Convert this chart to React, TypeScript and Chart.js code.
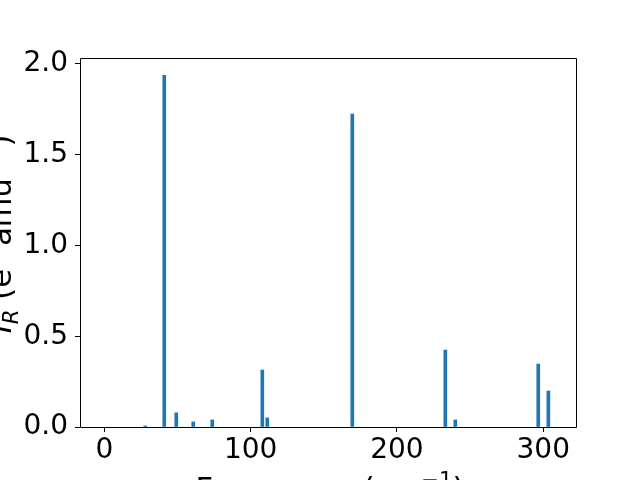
import React, { useEffect, useRef } from "react";
import { Chart, registerables } from "chart.js";

Chart.register(...registerables);

// Data
const frequencies = [28.0, 41.0, 49.2, 60.8, 73.8, 108.0, 111.4, 169.5, 233.1, 239.9, 296.6, 303.5];
const intensities = [0.006, 1.937, 0.078, 0.028, 0.039, 0.314, 0.05, 1.724, 0.424, 0.039, 0.347, 0.198];
const xTickValues = [0, 100, 200, 300];
const yTickValues = [0, 0.5, 1.0, 1.5, 2.0];

type Seg = { t: string; size?: number; dy?: number; italic?: boolean };
const yLabelParts: Seg[] = [
  { t: "I", italic: true },
  { t: "R", italic: true, size: 0.7, dy: 0.22 },
  { t: " (e" },
  { t: "2", size: 0.7, dy: -0.4 },
  { t: " amu" },
  { t: "\u22121", size: 0.7, dy: -0.4 },
  { t: ")" },
];
const xLabelParts: Seg[] = [
  { t: "Frequency (cm" },
  { t: "\u22121", size: 0.7, dy: -0.4 },
  { t: ")" },
];

const FONT = "'DejaVu Sans', sans-serif";
const FS = 28;
const LFS = 30.5;

function fontFor(s: Seg) {
  const px = LFS * (s.size ?? 1);
  return `${s.italic ? "italic " : ""}${px}px ${FONT}`;
}

function drawSegs(ctx: CanvasRenderingContext2D, segs: Seg[], cx: number, baseY: number) {
  let total = 0;
  const widths = segs.map((s) => {
    ctx.font = fontFor(s);
    const w = ctx.measureText(s.t).width;
    total += w;
    return w;
  });
  let x = cx - total / 2;
  ctx.textAlign = "left";
  ctx.textBaseline = "alphabetic";
  ctx.fillStyle = "#000";
  segs.forEach((s, i) => {
    ctx.font = fontFor(s);
    ctx.fillText(s.t, x, baseY + (s.dy ?? 0) * LFS);
    x += widths[i];
  });
}

const framePlugin = {
  id: "frameAndLabels",
  afterDraw(chart: any) {
    const { ctx, chartArea } = chart;
    const { left, right, top, bottom } = chartArea;
    ctx.save();
    ctx.strokeStyle = "#000";
    ctx.lineWidth = 1;
    ctx.beginPath();
    ctx.rect(Math.round(left) + 0.5, Math.round(top) + 0.5, Math.round(right - left), Math.round(bottom - top));
    ctx.stroke();
    // x label
    drawSegs(ctx, xLabelParts, (left + right) / 2 + 2, 499);
    // y label
    ctx.translate(11, 234);
    ctx.rotate(-Math.PI / 2);
    drawSegs(ctx, yLabelParts, 0, 0);
    ctx.restore();
  },
};

export default function App() {
  const ref = useRef<HTMLCanvasElement | null>(null);
  useEffect(() => {
    if (!ref.current) return;
    const chart = new Chart(ref.current, {
      type: "bar",
      data: {
        datasets: [
          {
            data: frequencies.map((f, i) => ({ x: f, y: intensities[i] })),
            backgroundColor: "#1f77b4",
            borderWidth: 0,
            barThickness: 3,
          },
        ],
      },
      options: {
        responsive: false,
        animation: false,
        layout: { padding: { top: 58, right: 64, left: 0, bottom: 0 } },
        plugins: { legend: { display: false }, tooltip: { enabled: false } },
        scales: {
          x: {
            type: "linear",
            min: -16.6,
            max: 322.4,
            offset: false,
            grid: { display: true, drawOnChartArea: false, drawTicks: true, tickLength: 5, color: "#000", offset: false },
            border: { display: false },
            ticks: {
              font: { family: FONT, size: FS },
              color: "#000",
              padding: 2,
              maxRotation: 0,
              autoSkip: false,
              callback: (v: any) => String(v),
            },
            afterBuildTicks: (s: any) => {
              s.ticks = xTickValues.map((v) => ({ value: v }));
            },
            afterFit: (s: any) => {
              s.height = 53;
            },
          },
          y: {
            type: "linear",
            min: 0,
            max: 2.033,
            grid: { display: true, drawOnChartArea: false, drawTicks: true, tickLength: 5, color: "#000" },
            border: { display: false },
            ticks: {
              font: { family: FONT, size: FS },
              color: "#000",
              padding: 7,
              autoSkip: false,
              callback: (v: any) => Number(v).toFixed(1),
            },
            afterBuildTicks: (s: any) => {
              s.ticks = yTickValues.map((v) => ({ value: v }));
            },
            afterFit: (s: any) => {
              s.width = 80;
            },
          },
        },
      } as any,
      plugins: [framePlugin],
    });
    return () => chart.destroy();
  }, []);
  return (
    <div style={{ position: "absolute", left: 0, top: 0, width: 640, height: 480 }}>
      <canvas ref={ref} width={640} height={480} style={{ display: "block" }} />
    </div>
  );
}
